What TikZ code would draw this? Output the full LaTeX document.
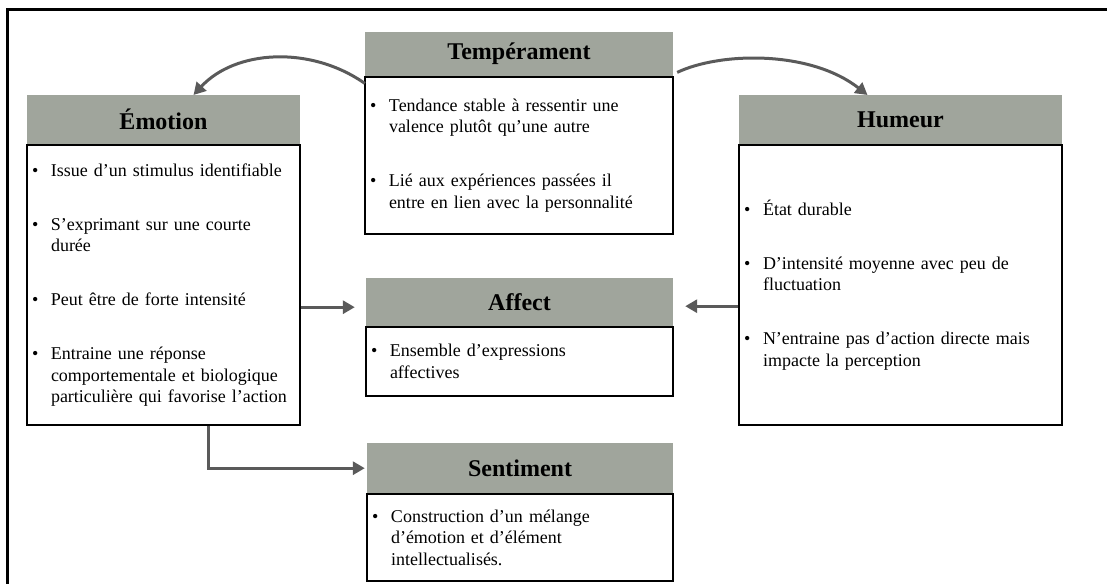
\documentclass[tikz,border=0pt]{standalone}
\usepackage{fontspec}
\setmainfont{Liberation Serif}
\usetikzlibrary{positioning,arrows.meta}
\definecolor{entete}{HTML}{A0A59C}
\definecolor{fleche}{HTML}{5A5A5A}
\tikzset{
  titre/.style={fill=entete, anchor=north, inner sep=0pt, font=\fontsize{24}{28}\selectfont\bfseries},
  corps/.style={draw, line width=1.2pt, inner xsep=5pt, inner ysep=0pt, align=left, font=\fontsize{18}{21.5}\selectfont},
  lien/.style={draw=fleche, line width=3pt, -{Triangle[length=12pt,width=13pt]}}
}

\begin{document}
\begin{tikzpicture}[x=1pt,y=-1pt]

    % Define bullets
    \def\puce{\makebox[19pt][l]{\textbullet}}
    \def\suite{\hspace*{19pt}}
    \def\saut{\\[32.5pt]}

    % Frame
    \useasboundingbox (0,0) rectangle (1107,583);
    \clip (0,0) rectangle (1107,583);
    \draw[line width=3pt] (7,10) rectangle (1130,610);

    % Temperament
    \node[titre, minimum width=308pt, minimum height=44pt] (temph) at (519,32) {Tempérament};
    \node[corps, below=0pt of temph, minimum width=308pt, minimum height=157pt, text width=298pt] (tempb)
        {\puce Tendance stable à ressentir une\\ \suite valence plutôt qu’une autre\saut
         \puce Lié aux expériences passées il\\ \suite entre en lien avec la personnalité};

    % Emotion
    \node[titre, minimum width=273pt, minimum height=49pt] (emoh) at (163.5,95) {Émotion};
    \node[corps, below=0pt of emoh, minimum width=273pt, minimum height=280pt, text width=263pt] (emob)
        {\puce Issue d’un stimulus identifiable\saut
         \puce S’exprimant sur une courte\\ \suite durée\saut
         \puce Peut être de forte intensité\saut
         \puce Entraine une réponse\\ \suite comportementale et biologique\\ \suite particulière qui favorise l’action};

    % Humeur
    \node[titre, minimum width=323pt, minimum height=49pt] (humh) at (900.5,95) {Humeur};
    \node[corps, below=0pt of humh, minimum width=323pt, minimum height=280pt, text width=313pt] (humb)
        {\puce État durable\saut
         \puce D’intensité moyenne avec peu de\\ \suite fluctuation\saut
         \puce N’entraine pas d’action directe mais\\ \suite impacte la perception};

    % Affect
    \node[titre, minimum width=307pt, minimum height=48pt] (afh) at (519.5,278) {Affect};
    \node[corps, below=0pt of afh, minimum width=307pt, minimum height=69pt, text width=297pt] (afb)
        {\puce Ensemble d’expressions\\ \suite affectives};

    % Sentiment
    \node[titre, minimum width=306pt, minimum height=50pt] (seh) at (520,443) {Sentiment};
    \node[corps, below=0pt of seh, minimum width=306pt, minimum height=87pt, text width=296pt] (seb)
        {\puce Construction d’un mélange\\ \suite d’émotion et d’élément\\ \suite intellectualisés.};

    % Arrows
    \draw[lien] ([yshift=-7pt]temph.south west) .. controls (310,45) and (235,50) .. ([xshift=30pt]emoh.north);
    \draw[lien] ([xshift=4pt,yshift=4pt]temph.south east) .. controls (720,52) and (810,50) .. ([xshift=-33pt]humh.north);

    \coordinate (a1) at ([xshift=-11pt,yshift=-5pt]afh.west);
    \coordinate (a2) at ([xshift=12pt,yshift=-4pt]afh.east);
    \draw[lien] (emob.east |- a1) -- (a1);
    \draw[lien] (humb.west |- a2) -- (a2);
    \draw[lien] ([xshift=45pt]emob.south) |- ([xshift=-2pt]seh.west);

\end{tikzpicture}
\end{document}
